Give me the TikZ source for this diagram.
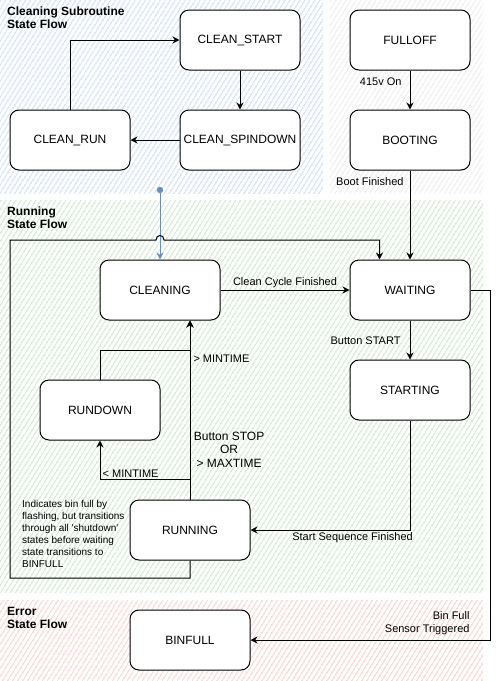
\documentclass[tikz,border=0pt]{standalone}
\usepackage{fontspec}
\setmainfont{Liberation Sans}
\usepackage{tikz}
\usetikzlibrary{arrows.meta, patterns.meta, positioning}
\definecolor{hatchblue}{RGB}{186, 207, 240}
\definecolor{hatchgray}{RGB}{230, 230, 230}
\definecolor{hatchgreen}{RGB}{188, 219, 186}
\definecolor{hatchred}{RGB}{244, 188, 186}
\definecolor{tapblue}{RGB}{108, 142, 191}

\begin{document}
\begin{tikzpicture}[x=1pt, y=-1pt,
  state/.style={draw, line width=1pt, fill=white, rounded corners=9pt, minimum width=120pt, minimum height=60pt, font=\fontsize{12}{14}\selectfont},
  region/.style={pattern={Lines[angle=58, distance=4pt, line width=1pt]}},
  title/.style={anchor=north west, align=left, inner sep=0pt, font=\fontsize{12}{13}\selectfont\bfseries},
  lbl/.style={inner sep=1pt, font=\fontsize{11}{13}\selectfont},
  arrow/.style={-{Stealth[length=7pt, width=7pt]}, line width=1pt},
  tap/.style={-{Stealth[length=7pt, width=7pt]}, line width=1pt, color=tapblue}
]
  \useasboundingbox (0,0) rectangle (499,681);

  % Regions
  \fill[region, pattern color=hatchblue] (0,0) rectangle (323,193);
  \fill[region, pattern color=hatchgray] (330,0) rectangle (483,193);
  \fill[region, pattern color=hatchgreen] (0,200) rectangle (483,592);
  \fill[region, pattern color=hatchred] (0,600) rectangle (483,681);
  \node[title] (tclean) at (7,7) {Cleaning Subroutine\\State Flow};
  \node[title] (trun) at (7,207) {Running\\State Flow};
  \node[title] (terr) at (7,607) {Error\\State Flow};

  % Cleaning subroutine
  \node[state] (cstart) at (240,40) {CLEAN\_START};
  \node[state] (cspin) at (240,140) {CLEAN\_SPINDOWN};
  \node[state] (crun) at (70,140) {CLEAN\_RUN};

  % Power up
  \node[state] (fulloff) at (410,40) {FULLOFF};
  \node[state] (booting) at (410,140) {BOOTING};

  % Running
  \node[state] (cleaning) at (160,290) {CLEANING};
  \node[state] (waiting) at (410,290) {WAITING};
  \node[state] (starting) at (410,390) {STARTING};
  \node[state] (rundown) at (100,410) {RUNDOWN};
  \node[state] (running) at (190,530) {RUNNING};
  \node[anchor=north west, align=left, inner sep=0pt, font=\fontsize{10}{12}\selectfont] (binnote) at (22,500)
    {Indicates bin full by\\flashing, but transitions\\through all \textquotesingle shutdown\textquotesingle\\states before waiting\\state transitions to\\BINFULL};

  % Error
  \node[state] (binfull) at (190,640) {BINFULL};

  % Arrows
  \draw[arrow] (cstart) -- (cspin);
  \draw[arrow] (cspin) -- (crun);
  \draw[arrow] (crun.north) |- (cstart.west);
  \draw[arrow] (fulloff) -- node[lbl, pos=0.28, left, xshift=-7pt] {415v On} (booting);
  \draw[arrow] (booting) -- node[lbl, pos=0.12, left, xshift=-5pt] {Boot Finished} (waiting);
  \coordinate (cleantap) at (160,190);
  \fill[tapblue] (cleantap) circle (3.2pt);
  \draw[tap] (cleantap) -- (cleaning);
  \draw[arrow] (running.south) -- (190,578) -- (10,578) -- (10,240) -- (156,240)
    .. controls (156,234) and (164,234) .. (164,240) -| ([xshift=30pt]waiting.north west);
  \draw[arrow] (cleaning) -- node[lbl, above, yshift=1pt] {Clean Cycle Finished} (waiting);
  \draw[arrow] (waiting) -- node[lbl, pos=0.52, left, xshift=-8pt] {Button START} (starting);
  \draw[arrow] (starting.south) |- node[lbl, pos=0.68, below, yshift=-1pt] {Start Sequence Finished} (running.east);
  \draw[arrow] (waiting.east) -| (490,640)
    node[lbl, anchor=south east, align=right, xshift=-19pt, yshift=4pt] {Bin Full\\Sensor Triggered} -- (binfull.east);
  \draw[arrow] (running.north) -- node[pos=0.28, right, align=center, font=\fontsize{12}{13.5}\selectfont] {Button STOP\\OR\\> MAXTIME} ([xshift=30pt]cleaning.south);
  \draw[arrow] ([yshift=20pt]running.north) -| node[lbl, pos=0.33, above, yshift=1pt] {< MINTIME} (rundown.south);
  \draw[arrow] (rundown.north) |- ([xshift=30pt, yshift=-30pt]cleaning.south)
    node[lbl, anchor=north west, xshift=2pt, yshift=-3pt] {> MINTIME} -- ([xshift=30pt]cleaning.south);
\end{tikzpicture}
\end{document}
